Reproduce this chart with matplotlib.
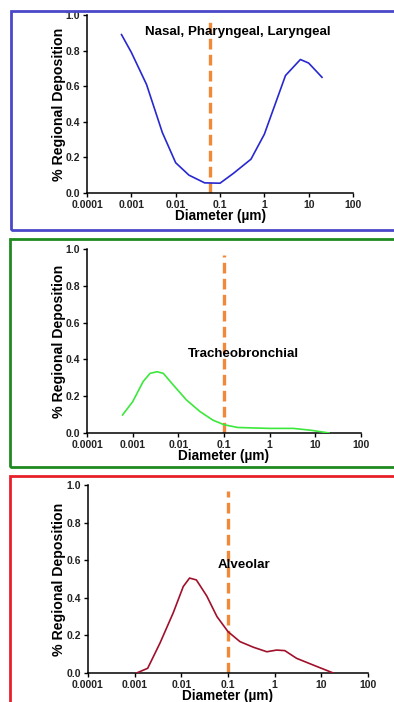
import matplotlib
matplotlib.use("Agg")
import matplotlib.pyplot as plt
from matplotlib.patches import Rectangle
from matplotlib.ticker import FixedLocator, FixedFormatter

plt.rcParams['font.family'] = ['Liberation Sans', 'DejaVu Sans']

# particle diameter (um) vs regional deposition fraction
nasal_d = [0.0006, 0.001, 0.0022, 0.005, 0.01, 0.02, 0.045, 0.1, 0.2, 0.5, 1, 3, 6.5, 10, 20]
nasal_v = [0.89, 0.79, 0.61, 0.34, 0.17, 0.10, 0.057, 0.055, 0.11, 0.19, 0.33, 0.66, 0.75, 0.73, 0.65]

tb_d = [0.0006, 0.001, 0.0017, 0.0024, 0.0034, 0.0047, 0.0078, 0.015, 0.03, 0.057, 0.1, 0.2,
        0.5, 1, 3.3, 8, 20]
tb_v = [0.098, 0.17, 0.28, 0.324, 0.333, 0.324, 0.26, 0.18, 0.116, 0.07, 0.045, 0.03,
        0.027, 0.025, 0.025, 0.015, 0.0]

alv_d = [0.0011, 0.0019, 0.0035, 0.0067, 0.011, 0.015, 0.021, 0.035, 0.058, 0.1, 0.18, 0.35,
         0.68, 1.1, 1.65, 2.95, 6.6, 18]
alv_v = [0.0, 0.025, 0.16, 0.32, 0.46, 0.505, 0.495, 0.41, 0.30, 0.22, 0.167, 0.137,
         0.113, 0.122, 0.119, 0.078, 0.043, 0.0]

cutoffs = [0.06, 0.1, 0.1]
titles = ["Nasal, Pharyngeal, Laryngeal", "Tracheobronchial", "Alveolar"]
title_pos = [(0.25, 0.905), (0.26, 0.43), (0.22, 0.575)]

x_ticks = [0.0001, 0.001, 0.01, 0.1, 1, 10, 100]
x_labels = ["0.0001", "0.001", "0.01", "0.1", "1", "10", "100"]
y_ticks = [0.0, 0.2, 0.4, 0.6, 0.8, 1.0]
y_labels = ["0.0", "0.2", "0.4", "0.6", "0.8", "1.0"]

W, H = 394, 702
fig = plt.figure(figsize=(W / 100, H / 100), dpi=100)

def px_axes(left, right, top, bottom):
    return fig.add_axes([left / W, 1 - bottom / H, (right - left) / W, (bottom - top) / H])

def px_box(left, top, bottom, color):
    r = Rectangle((left / W, 1 - bottom / H), (W + 20 - left) / W, (bottom - top) / H,
                  transform=fig.transFigure, fill=False, edgecolor=color, linewidth=2.0,
                  clip_on=False)
    fig.patches.append(r)

px_box(11, 11, 230, "#4a48c8")
px_box(10, 239, 467, "#1f8a1f")
px_box(10, 476, 720, "#e8202a")

panels = [
    (px_axes(87, 353, 15, 193), nasal_d, nasal_v, "#2828d0"),
    (px_axes(87, 361, 249, 433), tb_d, tb_v, "#3ce83c"),
    (px_axes(88, 368, 485, 673), alv_d, alv_v, "#a0102a"),
]

for i, (ax, d, v, col) in enumerate(panels):
    ax.plot(d, v, color=col, linewidth=1.2, zorder=3)
    ax.plot([cutoffs[i], cutoffs[i]], [0, 0.97], color="#f08a3a", linewidth=2.4,
            dashes=(3.2, 1.6), zorder=2)
    ax.set_xscale("log")
    ax.set_xlim(0.0001, 100)
    ax.set_ylim(0, 1.0)
    ax.xaxis.set_major_locator(FixedLocator(x_ticks))
    ax.xaxis.set_major_formatter(FixedFormatter(x_labels))
    ax.xaxis.set_minor_locator(FixedLocator([]))
    ax.yaxis.set_major_locator(FixedLocator(y_ticks))
    ax.yaxis.set_major_formatter(FixedFormatter(y_labels))
    for s in ["top", "right"]:
        ax.spines[s].set_visible(False)
    for s in ["left", "bottom"]:
        ax.spines[s].set_linewidth(1.1)
    ax.tick_params(length=3, width=1, labelsize=7.5, pad=2)
    for lab in ax.get_xticklabels() + ax.get_yticklabels():
        lab.set_fontweight("bold")
        lab.set_color("#222222")
    ax.set_xlabel("Diameter (µm)", fontsize=9.8, fontweight="bold", labelpad=-1)
    ax.set_ylabel("% Regional Deposition", fontsize=10.2, fontweight="bold")
    ax.yaxis.set_label_coords(-0.078, 0.5)
    ax.text(title_pos[i][0], title_pos[i][1], titles[i], fontsize=9.6, fontweight="bold",
            ha="center", va="center", zorder=4)

fig.savefig("out.png", dpi=100)
